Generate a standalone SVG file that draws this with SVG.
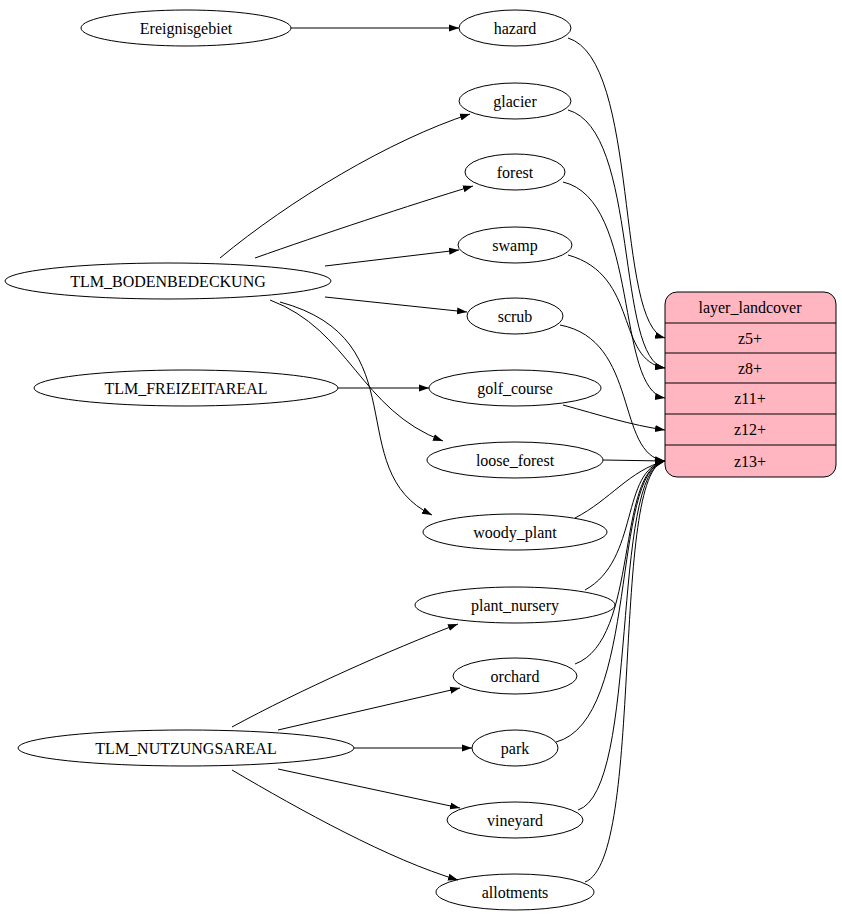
<svg xmlns="http://www.w3.org/2000/svg" width="842" height="923" viewBox="0 0 842 923">
<style>
ellipse{fill:none;stroke:#000;stroke-width:1}
text{font-family:"Liberation Serif","Times New Roman",serif;font-size:16px;text-anchor:middle}
#edges path{fill:none;stroke:#000;stroke-width:1}
</style>
<defs><marker id="a" viewBox="0 0 10 10" refX="10" refY="5" markerWidth="10" markerHeight="10" markerUnits="userSpaceOnUse" orient="auto"><path d="M0,1.5L10,5L0,8.5z" fill="#000"/></marker></defs>
<rect width="842" height="923" fill="#fff"/>
<g id="edges">
<path marker-end="url(#a)" d="M291,28L459,28"/>
<path marker-end="url(#a)" d="M220,258C290,200 390,140 470,114"/>
<path marker-end="url(#a)" d="M255,258C320,235 410,205 473,186"/>
<path marker-end="url(#a)" d="M325,266L459,250"/>
<path marker-end="url(#a)" d="M325,297L467,312"/>
<path marker-end="url(#a)" d="M270,300C350,330 360,410 443,441"/>
<path marker-end="url(#a)" d="M280,302C420,340 340,470 432,515"/>
<path marker-end="url(#a)" d="M338,388L429,388"/>
<path marker-end="url(#a)" d="M232,727C300,690 390,650 458,624"/>
<path marker-end="url(#a)" d="M278,730L460,688"/>
<path marker-end="url(#a)" d="M354,748L472,748"/>
<path marker-end="url(#a)" d="M278,769L460,808"/>
<path marker-end="url(#a)" d="M232,770C300,810 390,860 458,880"/>
<path marker-end="url(#a)" d="M568,38C640,60 615,325 665,338"/>
<path marker-end="url(#a)" d="M568,110C640,130 615,360 665,368"/>
<path marker-end="url(#a)" d="M563,182C640,200 615,390 665,398"/>
<path marker-end="url(#a)" d="M568,255C640,275 615,360 665,368"/>
<path marker-end="url(#a)" d="M560,325C640,340 615,455 665,461"/>
<path marker-end="url(#a)" d="M563,405C600,415 630,425 665,430"/>
<path marker-end="url(#a)" d="M603,460L665,461"/>
<path marker-end="url(#a)" d="M575,518C610,500 630,470 665,461"/>
<path marker-end="url(#a)" d="M585,590C640,560 620,470 665,461"/>
<path marker-end="url(#a)" d="M575,664C640,640 615,470 665,461"/>
<path marker-end="url(#a)" d="M556,742C640,720 610,470 665,461"/>
<path marker-end="url(#a)" d="M578,810C640,790 610,470 665,461"/>
<path marker-end="url(#a)" d="M585,882C645,860 610,470 665,461"/>
</g>
<g id="Ereignisgebiet"><ellipse cx="186" cy="28" rx="105" ry="18"/><text x="186" y="34">Ereignisgebiet</text></g>
<g id="hazard"><ellipse cx="515" cy="28" rx="56" ry="18"/><text x="515" y="34">hazard</text></g>
<g id="glacier"><ellipse cx="515" cy="101" rx="56" ry="18"/><text x="515" y="107">glacier</text></g>
<g id="forest"><ellipse cx="515" cy="172" rx="50" ry="18"/><text x="515" y="178">forest</text></g>
<g id="swamp"><ellipse cx="515" cy="245" rx="57" ry="18"/><text x="515" y="251">swamp</text></g>
<g id="TLM_BODENBEDECKUNG"><ellipse cx="168" cy="281" rx="163" ry="18"/><text x="168" y="287">TLM_BODENBEDECKUNG</text></g>
<g id="scrub"><ellipse cx="515" cy="316" rx="48" ry="18"/><text x="515" y="322">scrub</text></g>
<g id="TLM_FREIZEITAREAL"><ellipse cx="186" cy="388" rx="152" ry="18"/><text x="186" y="394">TLM_FREIZEITAREAL</text></g>
<g id="golf_course"><ellipse cx="515" cy="388" rx="86" ry="18"/><text x="515" y="394">golf_course</text></g>
<g id="loose_forest"><ellipse cx="515" cy="460" rx="88" ry="18"/><text x="515" y="466">loose_forest</text></g>
<g id="woody_plant"><ellipse cx="515" cy="532" rx="92" ry="18"/><text x="515" y="538">woody_plant</text></g>
<g id="plant_nursery"><ellipse cx="515" cy="605" rx="100" ry="18"/><text x="515" y="611">plant_nursery</text></g>
<g id="orchard"><ellipse cx="515" cy="676" rx="62" ry="18"/><text x="515" y="682">orchard</text></g>
<g id="TLM_NUTZUNGSAREAL"><ellipse cx="186" cy="748" rx="168" ry="18"/><text x="186" y="754">TLM_NUTZUNGSAREAL</text></g>
<g id="park"><ellipse cx="515" cy="748" rx="43" ry="18"/><text x="515" y="754">park</text></g>
<g id="vineyard"><ellipse cx="515" cy="820" rx="68" ry="18"/><text x="515" y="826">vineyard</text></g>
<g id="allotments"><ellipse cx="515" cy="892" rx="79" ry="18"/><text x="515" y="898">allotments</text></g>
<g id="layer_landcover">
<rect x="665" y="292" width="171" height="185" rx="12" fill="#ffb6c1" stroke="#000"/>
<path d="M665,323H836M665,353H836M665,383H836M665,414H836M665,445H836" stroke="#000"/>
<text x="750" y="313">layer_landcover</text>
<text x="750" y="344">z5+</text>
<text x="750" y="374">z8+</text>
<text x="750" y="404">z11+</text>
<text x="750" y="435">z12+</text>
<text x="750" y="467">z13+</text>
</g>
</svg>
